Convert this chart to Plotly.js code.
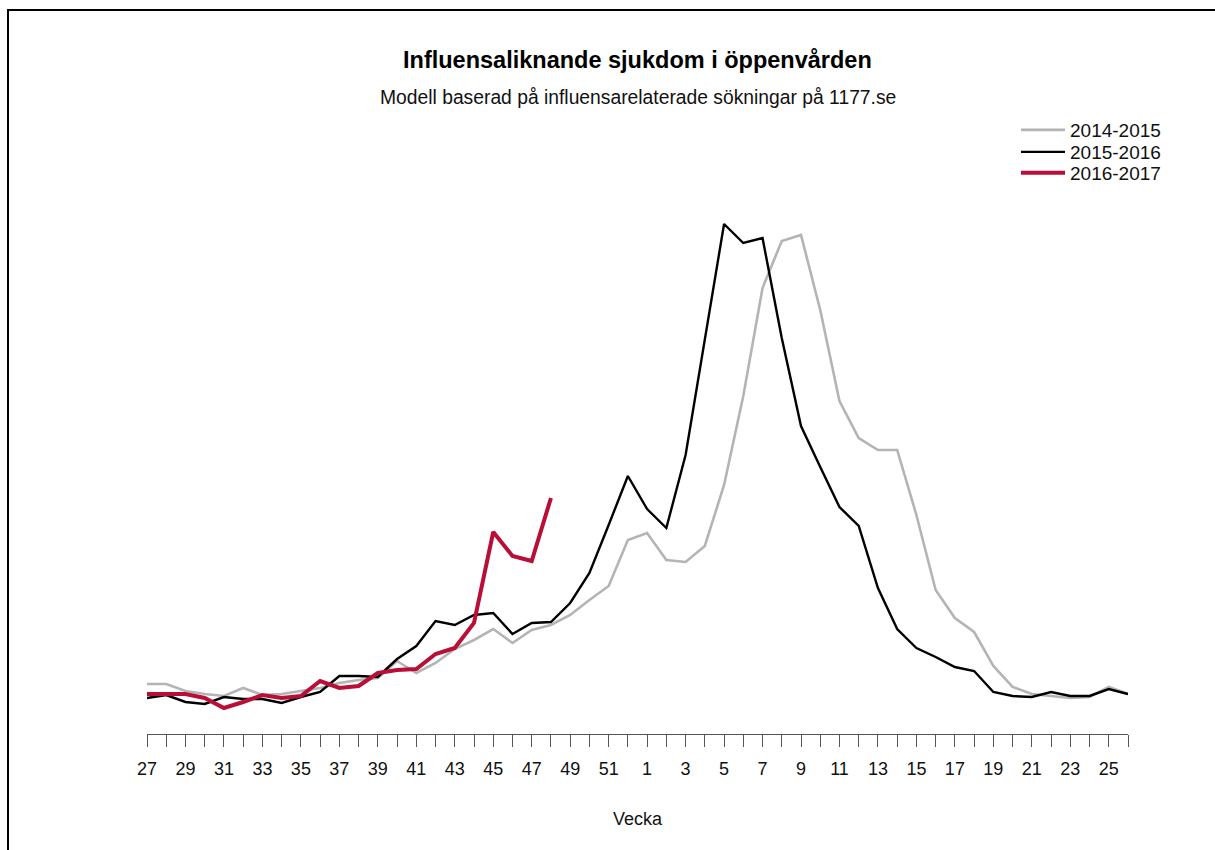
<!DOCTYPE html>
<html>
<head>
<meta charset="utf-8">
<script src="https://cdn.plot.ly/plotly-3.0.1.min.js"></script>
<style>
  html, body { margin: 0; padding: 0; background: #ffffff; }
  #chart { width: 1215px; height: 850px; }
</style>
</head>
<body>
<div id="chart"></div>
<script>
// Week numbers of the season (week 27 through week 26 of the following year)
const weeks = [27, 28, 29, 30, 31, 32, 33, 34, 35, 36, 37, 38, 39, 40, 41, 42, 43, 44, 45, 46, 47, 48, 49, 50, 51, 52,
               1, 2, 3, 4, 5, 6, 7, 8, 9, 10, 11, 12, 13, 14, 15, 16, 17, 18, 19, 20, 21, 22, 23, 24, 25, 26];

// Labelled weeks (every other week)
const labelledWeeks = [27, 29, 31, 33, 35, 37, 39, 41, 43, 45, 47, 49, 51, 1, 3, 5, 7, 9, 11, 13, 15, 17, 19, 21, 23, 25];

// Season 2014-2015 (model values, arbitrary units)
const season2014 = [0.51, 0.51, 0.44, 0.41, 0.39, 0.47, 0.40, 0.41, 0.44, 0.47, 0.52, 0.55, 0.57, 0.74, 0.62, 0.72,
                    0.86, 0.95, 1.06, 0.92, 1.05, 1.10, 1.20, 1.35, 1.49, 1.95,
                    2.02, 1.75, 1.73, 1.89, 2.50, 3.39, 4.47, 4.94, 5.00, 4.25, 3.34, 2.97, 2.85, 2.85, 2.20,
                    1.45, 1.17, 1.03, 0.69, 0.48, 0.41, 0.39, 0.37, 0.38, 0.48, 0.41];

// Season 2015-2016
const season2015 = [0.37, 0.40, 0.33, 0.31, 0.38, 0.36, 0.36, 0.32, 0.38, 0.43, 0.59, 0.59, 0.58, 0.76, 0.89, 1.14,
                    1.10, 1.20, 1.22, 1.01, 1.12, 1.13, 1.32, 1.62, 2.10, 2.59,
                    2.26, 2.07, 2.80, 3.95, 5.11, 4.92, 4.97, 3.97, 3.09, 2.68, 2.28, 2.09, 1.47, 1.06, 0.87,
                    0.78, 0.68, 0.64, 0.43, 0.39, 0.38, 0.43, 0.39, 0.39, 0.46, 0.41];

// Season 2016-2017 (up to week 48)
const season2016 = [0.41, 0.41, 0.41, 0.37, 0.27, 0.33, 0.40, 0.37, 0.39, 0.54, 0.47, 0.49, 0.62, 0.65, 0.66, 0.81,
                    0.87, 1.12, 2.03, 1.79, 1.74, 2.37];

const seriesNames = ['2014-2015', '2015-2016', '2016-2017'];
const titleText = 'Influensaliknande sjukdom i öppenvården';
const subtitleText = 'Modell baserad på influensarelaterade sökningar på 1177.se';
const xTitle = 'Vecka';

const cats = weeks.map(String);
const tickText = weeks.map(w => labelledWeeks.includes(w) ? String(w) : '');

const FONT = 'Liberation Sans, Arial, Helvetica, sans-serif';

const traces = [
  {
    x: cats, y: season2014, name: seriesNames[0], type: 'scatter', mode: 'lines',
    line: { color: '#b4b4b4', width: 2.6 }, legend: 'legend'
  },
  {
    x: cats, y: season2015, name: seriesNames[1], type: 'scatter', mode: 'lines',
    line: { color: '#000000', width: 2.4 }, legend: 'legend2'
  },
  {
    x: cats.slice(0, season2016.length), y: season2016, name: seriesNames[2], type: 'scatter', mode: 'lines',
    line: { color: '#b90f36', width: 4 }, legend: 'legend3'
  }
];

// pixel -> paper helpers (plot area: x 147..1128, y 734..200)
const W = 981, H = 534;
const px = v => (v - 147) / W;
const py = v => (734 - v) / H;

function legendAt(yPix) {
  return {
    x: px(1016), y: py(yPix), xanchor: 'left', yanchor: 'middle',
    font: { family: FONT, size: 19, color: '#111111' },
    bgcolor: 'rgba(0,0,0,0)', borderwidth: 0,
    itemwidth: 44
  };
}

const layout = {
  width: 1215,
  height: 850,
  margin: { l: 147, r: 87, t: 200, b: 116 },
  paper_bgcolor: '#ffffff',
  plot_bgcolor: '#ffffff',
  font: { family: FONT, size: 18, color: '#111111' },
  showlegend: true,
  legend: legendAt(130),
  legend2: legendAt(152),
  legend3: legendAt(173),
  xaxis: {
    type: 'category',
    range: [0, weeks.length - 1],
    tickmode: 'array',
    tickvals: cats,
    ticktext: tickText,
    ticks: 'outside', ticklen: 12, tickwidth: 1, tickcolor: '#555555',
    showline: true, linecolor: '#555555', linewidth: 1,
    showgrid: false, zeroline: false,
    tickangle: 0,
    ticklabelstandoff: 6,
    tickfont: { family: FONT, size: 18, color: '#111111' },
    title: { text: xTitle, font: { family: FONT, size: 18, color: '#111111' }, standoff: 34 },
    fixedrange: true
  },
  yaxis: {
    range: [0.01, 5.35],
    showline: false, showgrid: false, zeroline: false,
    showticklabels: false, ticks: '',
    fixedrange: true
  },
  annotations: [
    {
      text: '<b>' + titleText + '</b>', xref: 'paper', yref: 'paper',
      x: 0.5, y: py(60), xanchor: 'center', yanchor: 'middle', showarrow: false,
      font: { family: FONT, size: 23.5, color: '#000000' }
    },
    {
      text: subtitleText, xref: 'paper', yref: 'paper',
      x: 0.5, y: py(98), xanchor: 'center', yanchor: 'middle', showarrow: false,
      font: { family: FONT, size: 19.3, color: '#111111' }
    }
  ],
  shapes: [
    {
      type: 'path', xref: 'paper', yref: 'paper',
      path: 'M ' + px(8) + ',' + py(852) + ' L ' + px(8) + ',' + py(10) + ' L ' + px(1217) + ',' + py(10),
      line: { color: '#000000', width: 2 }
    }
  ]
};

Plotly.newPlot('chart', traces, layout, { staticPlot: true, displayModeBar: false });
</script>
</body>
</html>
